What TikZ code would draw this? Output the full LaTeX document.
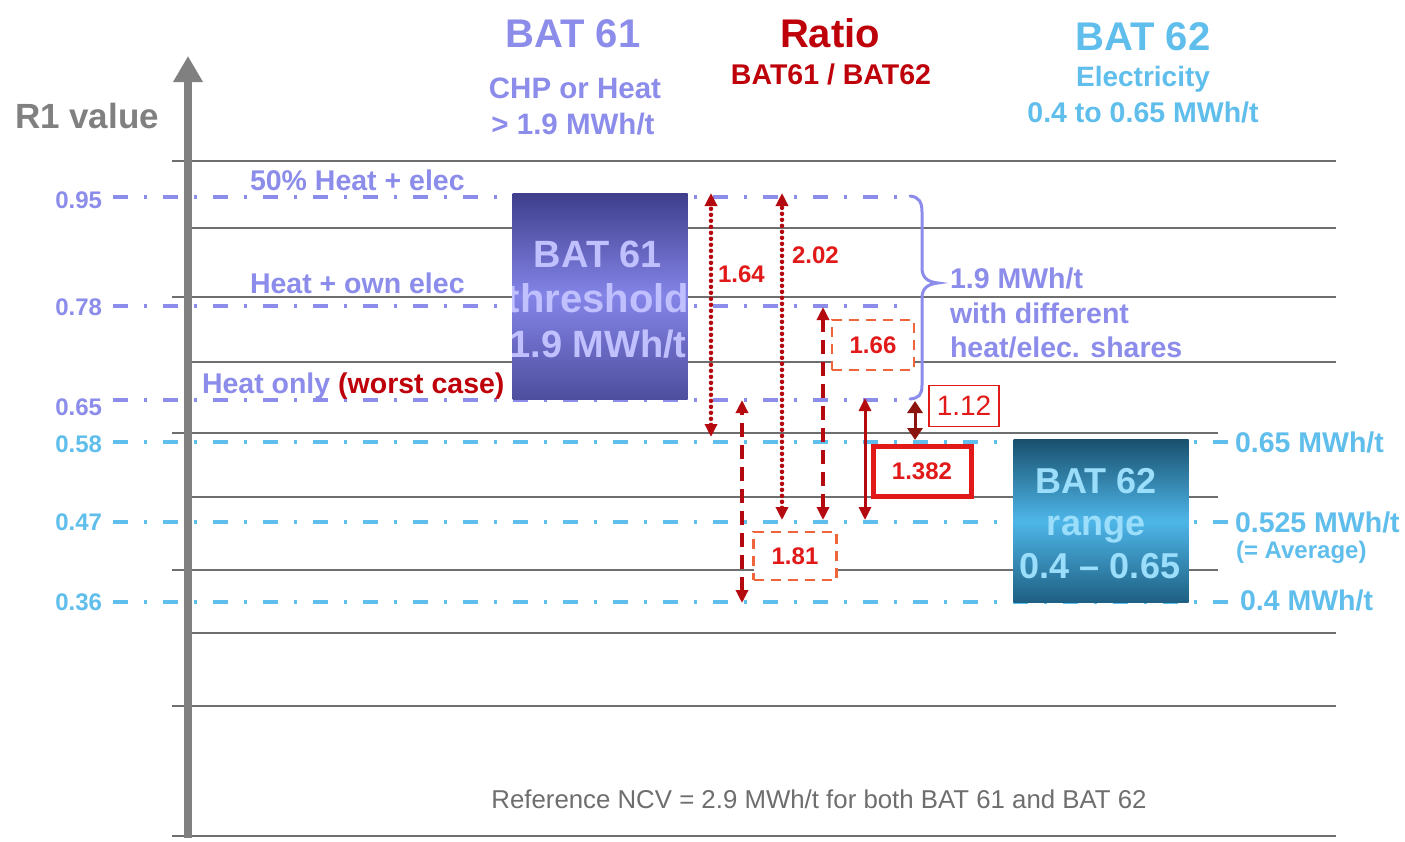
\documentclass[tikz,border=0pt]{standalone}
\usepackage{fontspec}
\setmainfont{Liberation Sans}
\usetikzlibrary{arrows.meta}
\definecolor{lav}{RGB}{140,140,235}
\definecolor{sky}{RGB}{95,190,235}
\definecolor{dred}{RGB}{190,0,10}
\definecolor{rred}{RGB}{225,25,25}
\definecolor{arr}{RGB}{180,10,15}
\definecolor{gridc}{RGB}{110,110,110}
\definecolor{axisc}{RGB}{128,128,128}
\definecolor{boxor}{RGB}{240,100,60}
\definecolor{brn}{RGB}{140,20,15}
\definecolor{ltxt}{RGB}{192,192,255}
\definecolor{btxt}{RGB}{155,222,252}
\definecolor{b61top}{RGB}{62,62,140}
\definecolor{b61mid}{RGB}{132,132,232}
\definecolor{b61bot}{RGB}{78,78,158}
\definecolor{b62top}{RGB}{25,80,110}
\definecolor{b62mid}{RGB}{78,182,232}
\definecolor{b62bot}{RGB}{30,95,130}
\newcommand{\fs}[1]{\fontsize{#1}{#1}\selectfont}
\begin{document}
\begin{tikzpicture}[x=1pt,y=-1pt,
  every node/.style={inner sep=0pt,outer sep=0pt},
  gridline/.style={draw=gridc,line width=2.5pt},
  dashdot/.style={line width=3.5pt,dash pattern=on 15pt off 16pt on 3pt off 16pt},
  axlbl/.style={font=\bfseries\fs{24},anchor=base east},
  midtxt/.style={font=\bfseries\fs{28.5},anchor=base west},
  ttl/.style={font=\bfseries\fs{40},anchor=base},
  sub/.style={font=\bfseries\fs{28},anchor=base},
  ratio/.style={font=\bfseries\fs{24},text=rred},
  tipd/.style={arrows={Triangle[length=13pt,width=12pt]-Triangle[length=13pt,width=12pt]}},
  dotarrow/.style={tipd,draw=arr,line width=4.5pt,line cap=round,dash pattern=on 0pt off 6pt},
  dasharrow/.style={tipd,draw=arr,line width=4pt,dash pattern=on 14pt off 8pt},
  solidarrow/.style={tipd,draw=arr,line width=3pt},
  dashbox/.style={draw=boxor,line width=2.5pt,dash pattern=on 10pt off 7pt,fill=white},
  boxtxt/.style={font=\bfseries\fs{38},anchor=base},
]
\fill[white] (0,0) rectangle (1405,841);
\path[use as bounding box] (0,0) rectangle (1405,841);

% grid lines
\foreach \yy/\xa/\xb in {161/172/1336,228/192/1336,297/172/1336,362/192/1336,433/172/1218,497/192/1218,570/172/1218,633/192/1336,706/172/1336,836/172/1336}
  \draw[gridline] (\xa,\yy) -- (\xb,\yy);

% axis
\node (axbot) at (188,838) {};
\node (axtop) at (188,56) {};
\draw[axisc,line width=8pt,-{Triangle[length=26pt,width=28pt]}] (axbot.center) -- (axtop.center);
\node[font=\bfseries\fs{35},text=axisc,anchor=base west] (r1) at (15,128) {R1 value};

% dash-dot lines
\draw[dashdot,lav] (113,197) -- (905,197);
\draw[dashdot,lav] (113,306) -- (905,306);
\draw[dashdot,lav] (113,400) -- (905,400);
\draw[dashdot,sky] (113,442) -- (1232,442);
\draw[dashdot,sky] (113,522) -- (1232,522);
\draw[dashdot,sky] (113,602) -- (1232,602);

% axis labels
\node[axlbl,text=lav] (l95) at (102,208) {0.95};
\node[axlbl,text=lav] (l78) at (102,315) {0.78};
\node[axlbl,text=lav] (l65) at (102,415) {0.65};
\node[axlbl,text=sky] (l58) at (102,452) {0.58};
\node[axlbl,text=sky] (l47) at (102,530) {0.47};
\node[axlbl,text=sky] (l36) at (102,610) {0.36};

% line labels
\node[midtxt,text=lav] (t50) at (250,190) {50\% Heat + elec};
\node[midtxt,text=lav] (town) at (250,293) {Heat + own elec};
\node[midtxt,text=lav,font=\bfseries\fs{28.5}] (tonly) at (202,393) {Heat only {\color{dred}(worst case)}};

% headers
\node[ttl,text=lav] (h61) at (573,47) {BAT 61};
\node[sub,text=lav,font=\bfseries\fs{29.5}] (h61a) at (575,98) {CHP or Heat};
\node[sub,text=lav,font=\bfseries\fs{29.5}] (h61b) at (573,134) {> 1.9 MWh/t};
\node[ttl,text=dred] (hr) at (830,47) {Ratio};
\node[sub,text=dred,font=\bfseries\fs{28.5}] (hra) at (831,84) {BAT61 / BAT62};
\node[ttl,text=sky] (h62) at (1143,50) {BAT 62};
\node[sub,text=sky] (h62a) at (1143,86) {Electricity};
\node[sub,text=sky,font=\bfseries\fs{28.5}] (h62b) at (1143,122) {0.4 to 0.65 MWh/t};

% BAT 61 box
\node[minimum width=175pt,minimum height=206pt,top color=b61top,bottom color=b61bot,middle color=b61mid] (b61) at (600,296) {};
\begin{scope}
  \clip (b61.north west) rectangle (b61.south east);
  \node[boxtxt,text=ltxt] (b61a) at (598,267) {BAT 61};
  \node[boxtxt,text=ltxt,font=\bfseries\fs{40}] (b61b) at (598,312) {threshold};
  \node[boxtxt,text=ltxt] (b61c) at (598,357) {1.9 MWh/t};
\end{scope}

% BAT 62 box
\node[minimum width=175pt,minimum height=163pt,top color=b62top,bottom color=b62bot,middle color=b62mid] (b62) at (1101,521) {};
\begin{scope}
  \clip (b62.north west) rectangle (b62.south east);
  \node[boxtxt,text=btxt,font=\bfseries\fs{36}] (b62a) at (1096,493) {BAT 62};
  \node[boxtxt,text=btxt,font=\bfseries\fs{36}] (b62b) at (1096,535) {range};
  \node[boxtxt,text=btxt,font=\bfseries\fs{36}] (b62c) at (1100,578) {0.4 -- 0.65};
\end{scope}

% brace
\draw[lav,line width=3pt,line cap=round] (910,196) .. controls (919,197) and (922,202) .. (922,212) -- (922,268) .. controls (922,278) and (928,282) .. (938,283) .. controls (928,284) and (922,288) .. (922,298) -- (922,385) .. controls (922,395) and (919,398) .. (910,399);
\node[midtxt,text=lav] (br1) at (950,288) {1.9 MWh/t};
\node[midtxt,text=lav] (br2) at (950,323) {with different};
\node[midtxt,text=lav] (br3) at (950,357) {heat/elec. shares};

% right labels
\node[midtxt,text=sky] (rl1) at (1235,452) {0.65 MWh/t};
\node[midtxt,text=sky] (rl2) at (1235,532) {0.525 MWh/t};
\node[midtxt,text=sky,font=\bfseries\fs{24}] (rl3) at (1236,558) {(= Average)};
\node[midtxt,text=sky] (rl4) at (1240,610) {0.4 MWh/t};

% ratio arrows
\coordinate (a1t) at (711,193); \coordinate (a1b) at (711,437);
\coordinate (a2t) at (782,193); \coordinate (a2b) at (782,520);
\coordinate (a3t) at (742,400); \coordinate (a3b) at (742,603);
\coordinate (a4t) at (823,307); \coordinate (a4b) at (823,520);
\coordinate (a5t) at (865,398); \coordinate (a5b) at (865,520);
\coordinate (a6t) at (915,401); \coordinate (a6b) at (915,440);
\draw[dotarrow] (a1b) -- (a1t);
\draw[dotarrow] (a2b) -- (a2t);
\draw[dasharrow] (a3b) -- (a3t);
\draw[dasharrow] (a4b) -- (a4t);
\draw[solidarrow] (a5b) -- (a5t);
\draw[draw=brn,line width=3pt,arrows={Triangle[length=12pt,width=15pt]-Triangle[length=12pt,width=15pt]}] (a6b) -- (a6t);

\node[ratio,anchor=base west] (v164) at (718,282) {1.64};
\node[ratio,anchor=base west] (v202) at (792,263) {2.02};
\node[dashbox,minimum width=82pt,minimum height=50pt] (bx166) at (873,345) {};
\node[ratio] (v166) at (bx166) {1.66};
\node[dashbox,minimum width=83pt,minimum height=48pt] (bx181) at (795,556) {};
\node[ratio] (v181) at (bx181) {1.81};
\node[draw=rred,line width=5pt,fill=white,minimum width=98pt,minimum height=50pt] (bx1382) at (922,471) {};
\node[ratio] (v1382) at (bx1382) {1.382};
\node[draw=rred,line width=1.5pt,fill=white,minimum width=70pt,minimum height=41pt,font=\fs{28},text=rred] (v112) at (964,406) {1.12};

% bottom note
\node[font=\fs{25.8},text=gridc,anchor=base] (note) at (819,808) {Reference NCV = 2.9 MWh/t for both BAT 61 and BAT 62};
\end{tikzpicture}
\end{document}
